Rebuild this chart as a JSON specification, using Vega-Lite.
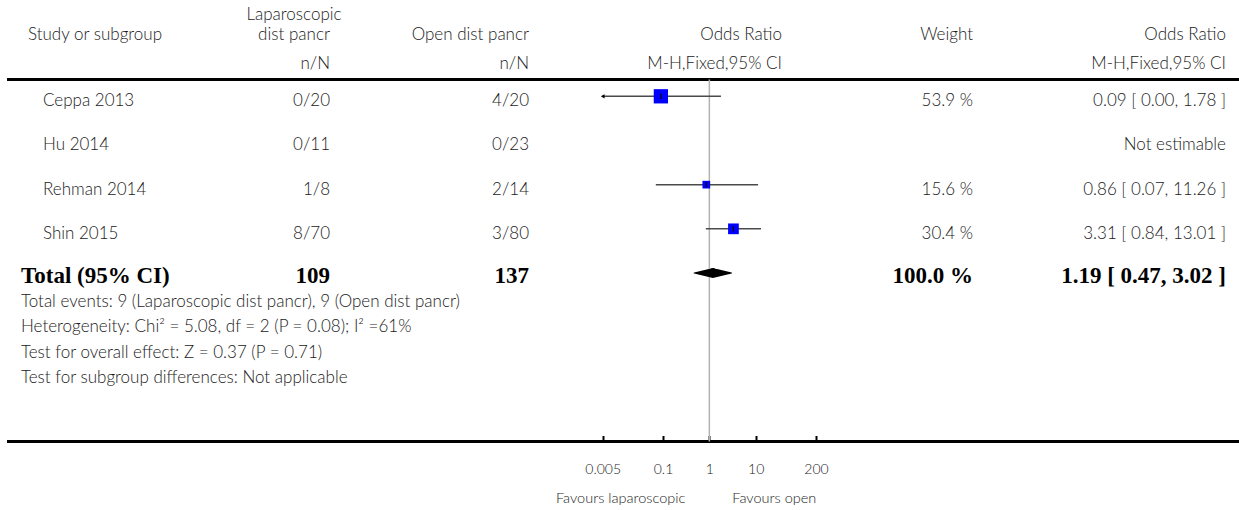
{
  "$schema": "https://vega.github.io/schema/vega-lite/v6.json",
  "width": 1239,
  "height": 510,
  "autosize": "none",
  "padding": 0,
  "background": "white",
  "config": {
    "view": {"stroke": null},
    "text": {"font": "Lato", "fontWeight": 300, "fontSize": 17, "color": "#1a1a1a", "baseline": "middle"}
  },
  "datasets": {
    "studies": [
      {"study": "Ceppa 2013", "row": 1, "lap": "0/20", "open": "4/20", "weight": 53.9, "weight_label": "53.9 %", "or": 0.09, "lo": 0.0045, "hi": 1.78, "ci_label": "0.09 [ 0.00, 1.78 ]"},
      {"study": "Hu 2014", "row": 2, "lap": "0/11", "open": "0/23", "weight": null, "weight_label": "", "or": null, "lo": null, "hi": null, "ci_label": "Not estimable"},
      {"study": "Rehman 2014", "row": 3, "lap": "1/8", "open": "2/14", "weight": 15.6, "weight_label": "15.6 %", "or": 0.86, "lo": 0.07, "hi": 11.26, "ci_label": "0.86 [ 0.07, 11.26 ]"},
      {"study": "Shin 2015", "row": 4, "lap": "8/70", "open": "3/80", "weight": 30.4, "weight_label": "30.4 %", "or": 3.31, "lo": 0.84, "hi": 13.01, "ci_label": "3.31 [ 0.84, 13.01 ]"}
    ],
    "pooled": [
      {"label": "Total (95% CI)", "row": 5, "lap": "109", "open": "137", "weight_label": "100.0 %", "or": 1.19, "lo": 0.47, "hi": 3.02, "ci_label": "1.19 [ 0.47, 3.02 ]"}
    ],
    "headers_left": [{"text": "Study or subgroup", "row": -2, "col": 0}],
    "headers_center": [{"text": "Laparoscopic", "row": -3, "col": 1}, {"text": "dist pancr", "row": -2, "col": 1}],
    "headers_right": [
      {"text": "Open dist pancr", "row": -2, "col": 2},
      {"text": "n/N", "row": -1, "col": 1},
      {"text": "n/N", "row": -1, "col": 2},
      {"text": "Odds Ratio", "row": -2, "col": 3},
      {"text": "M-H,Fixed,95% CI", "row": -1, "col": 3},
      {"text": "Weight", "row": -2, "col": 4},
      {"text": "Odds Ratio", "row": -2, "col": 5},
      {"text": "M-H,Fixed,95% CI", "row": -1, "col": 5}
    ],
    "notes": [
      {"text": "Total events: 9 (Laparoscopic dist pancr), 9 (Open dist pancr)", "row": 6},
      {"text": "Heterogeneity: Chi² = 5.08, df = 2 (P = 0.08); I² =61%", "row": 7},
      {"text": "Test for overall effect: Z = 0.37 (P = 0.71)", "row": 8},
      {"text": "Test for subgroup differences: Not applicable", "row": 9}
    ],
    "separators": [{"row": 0}, {"row": 10}],
    "no_effect": [{"or": 1, "row": 0, "row_end": 10}],
    "favours": [{"left": "Favours laparoscopic", "right": "Favours open", "or": 1, "row": 12}]
  },
  "layer": [
    {
      "layer": [
        {
          "data": {"name": "separators"},
          "mark": {"type": "rule", "color": "black", "strokeWidth": 3},
          "encoding": {
            "x": {"datum": -1, "type": "quantitative", "scale": {"type": "linear", "domain": [-1, 0, 1, 2, 3, 4, 5, 6], "range": [7, 21, 330, 529, 782, 973, 1226, 1239], "zero": false, "nice": false}, "axis": null},
            "x2": {"datum": 6},
            "y": {"field": "row", "type": "quantitative", "scale": {"type": "linear", "domain": [-3, -2, -1, 0, 1, 5, 6, 9, 10, 12], "range": [10, 30, 59, 79.5, 96.3, 273, 296.5, 373, 441.5, 494], "zero": false, "nice": false}, "axis": null}
          }
        },
        {
          "data": {"name": "headers_left"},
          "mark": {"type": "text", "align": "left", "dx": 7, "dy": 5},
          "encoding": {"x": {"field": "col", "type": "quantitative"}, "y": {"field": "row", "type": "quantitative"}, "text": {"field": "text"}}
        },
        {
          "data": {"name": "headers_center"},
          "mark": {"type": "text", "align": "center", "dx": -36, "dy": 5},
          "encoding": {"x": {"field": "col", "type": "quantitative"}, "y": {"field": "row", "type": "quantitative"}, "text": {"field": "text"}}
        },
        {
          "data": {"name": "headers_right"},
          "mark": {"type": "text", "align": "right", "dy": 5},
          "encoding": {"x": {"field": "col", "type": "quantitative"}, "y": {"field": "row", "type": "quantitative"}, "text": {"field": "text"}}
        },
        {
          "data": {"name": "studies"},
          "mark": {"type": "text", "align": "left", "dx": 22, "dy": 5},
          "encoding": {"x": {"datum": 0, "type": "quantitative"}, "y": {"field": "row", "type": "quantitative"}, "text": {"field": "study"}}
        },
        {
          "data": {"name": "studies"},
          "mark": {"type": "text", "align": "right", "dy": 5},
          "encoding": {"x": {"datum": 1, "type": "quantitative"}, "y": {"field": "row", "type": "quantitative"}, "text": {"field": "lap"}}
        },
        {
          "data": {"name": "studies"},
          "mark": {"type": "text", "align": "right", "dy": 5},
          "encoding": {"x": {"datum": 2, "type": "quantitative"}, "y": {"field": "row", "type": "quantitative"}, "text": {"field": "open"}}
        },
        {
          "data": {"name": "studies"},
          "mark": {"type": "text", "align": "right", "dy": 5},
          "encoding": {"x": {"datum": 4, "type": "quantitative"}, "y": {"field": "row", "type": "quantitative"}, "text": {"field": "weight_label"}}
        },
        {
          "data": {"name": "studies"},
          "mark": {"type": "text", "align": "right", "dy": 5},
          "encoding": {"x": {"datum": 5, "type": "quantitative"}, "y": {"field": "row", "type": "quantitative"}, "text": {"field": "ci_label"}}
        },
        {
          "data": {"name": "pooled"},
          "mark": {"type": "text", "align": "left", "dy": 3, "font": "Liberation Serif", "fontWeight": "bold", "fontSize": 23, "color": "black"},
          "encoding": {"x": {"datum": 0, "type": "quantitative"}, "y": {"field": "row", "type": "quantitative"}, "text": {"field": "label"}}
        },
        {
          "data": {"name": "pooled"},
          "mark": {"type": "text", "align": "right", "dy": 3, "font": "Liberation Serif", "fontWeight": "bold", "fontSize": 23, "color": "black"},
          "encoding": {"x": {"datum": 1, "type": "quantitative"}, "y": {"field": "row", "type": "quantitative"}, "text": {"field": "lap"}}
        },
        {
          "data": {"name": "pooled"},
          "mark": {"type": "text", "align": "right", "dy": 3, "font": "Liberation Serif", "fontWeight": "bold", "fontSize": 23, "color": "black"},
          "encoding": {"x": {"datum": 2, "type": "quantitative"}, "y": {"field": "row", "type": "quantitative"}, "text": {"field": "open"}}
        },
        {
          "data": {"name": "pooled"},
          "mark": {"type": "text", "align": "right", "dy": 3, "font": "Liberation Serif", "fontWeight": "bold", "fontSize": 23, "color": "black"},
          "encoding": {"x": {"datum": 4, "type": "quantitative"}, "y": {"field": "row", "type": "quantitative"}, "text": {"field": "weight_label"}}
        },
        {
          "data": {"name": "pooled"},
          "mark": {"type": "text", "align": "right", "dy": 3, "font": "Liberation Serif", "fontWeight": "bold", "fontSize": 23, "color": "black"},
          "encoding": {"x": {"datum": 5, "type": "quantitative"}, "y": {"field": "row", "type": "quantitative"}, "text": {"field": "ci_label"}}
        },
        {
          "data": {"name": "notes"},
          "mark": {"type": "text", "align": "left", "dy": 5},
          "encoding": {"x": {"datum": 0, "type": "quantitative"}, "y": {"field": "row", "type": "quantitative"}, "text": {"field": "text"}}
        }
      ]
    },
    {
      "layer": [
        {
          "data": {"name": "no_effect"},
          "mark": {"type": "rule", "color": "#b3b3b3", "strokeWidth": 1.5},
          "encoding": {
            "x": {
              "field": "or", "type": "quantitative",
              "scale": {"type": "log", "domain": [0.005, 200], "range": [602.7, 816], "clamp": true, "nice": false, "zero": false},
              "axis": {"orient": "bottom", "offset": -68.5, "values": [0.005, 0.1, 1, 10, 200], "format": "~g", "domain": false, "grid": false, "ticks": true, "tickSize": -6, "tickWidth": 2, "tickColor": "black", "labelFont": "Lato", "labelFontWeight": 300, "labelFontSize": 14, "labelColor": "#1a1a1a", "labelPadding": 27, "labelFlush": false, "labelOverlap": false, "title": null}
            },
            "y": {"field": "row", "type": "quantitative", "scale": {"type": "linear", "domain": [-3, -2, -1, 0, 1, 5, 6, 9, 10, 12], "range": [10, 30, 59, 79.5, 96.3, 273, 296.5, 373, 441.5, 494], "zero": false, "nice": false}, "axis": null},
            "y2": {"field": "row_end"}
          }
        },
        {
          "data": {"name": "studies"},
          "transform": [{"filter": "isValid(datum.or)"}],
          "mark": {"type": "rule", "color": "#4a4a4a", "strokeWidth": 1.5},
          "encoding": {"x": {"field": "lo", "type": "quantitative"}, "x2": {"field": "hi"}, "y": {"field": "row", "type": "quantitative"}}
        },
        {
          "data": {"name": "studies"},
          "transform": [{"filter": "isValid(datum.lo) && datum.lo < 0.005"}],
          "mark": {"type": "point", "shape": "triangle-left", "filled": true, "color": "black", "size": 18, "opacity": 1},
          "encoding": {"x": {"field": "lo", "type": "quantitative"}, "y": {"field": "row", "type": "quantitative"}}
        },
        {
          "data": {"name": "studies"},
          "transform": [{"filter": "isValid(datum.or)"}],
          "mark": {"type": "square", "color": "#0000ff", "opacity": 1},
          "encoding": {
            "x": {"field": "or", "type": "quantitative"},
            "y": {"field": "row", "type": "quantitative"},
            "size": {"field": "weight", "type": "quantitative", "scale": {"domain": [0, 53.9], "range": [0, 204]}, "legend": null}
          }
        },
        {
          "data": {"name": "studies"},
          "transform": [{"filter": "isValid(datum.or)"}],
          "mark": {"type": "point", "shape": "M0,-1L0,1", "filled": false, "stroke": "black", "strokeWidth": 1.2, "size": 30, "opacity": 1},
          "encoding": {"x": {"field": "or", "type": "quantitative"}, "y": {"field": "row", "type": "quantitative"}}
        },
        {
          "data": {"name": "pooled"},
          "transform": [{"fold": ["lo", "or", "hi"], "as": ["k", "v"]}],
          "mark": {"type": "trail", "color": "black"},
          "encoding": {
            "x": {"field": "v", "type": "quantitative"},
            "y": {"field": "row", "type": "quantitative"},
            "order": {"field": "v", "type": "quantitative"},
            "size": {"condition": {"test": "datum.k === 'or'", "value": 10}, "value": 0}
          }
        },
        {
          "data": {"name": "favours"},
          "mark": {"type": "text", "align": "right", "dx": -24, "dy": 5, "fontSize": 14.5},
          "encoding": {"x": {"field": "or", "type": "quantitative"}, "y": {"field": "row", "type": "quantitative"}, "text": {"field": "left"}}
        },
        {
          "data": {"name": "favours"},
          "mark": {"type": "text", "align": "left", "dx": 23, "dy": 5, "fontSize": 14.5},
          "encoding": {"x": {"field": "or", "type": "quantitative"}, "y": {"field": "row", "type": "quantitative"}, "text": {"field": "right"}}
        }
      ]
    }
  ],
  "resolve": {"scale": {"x": "independent"}, "axis": {"x": "independent"}}
}
